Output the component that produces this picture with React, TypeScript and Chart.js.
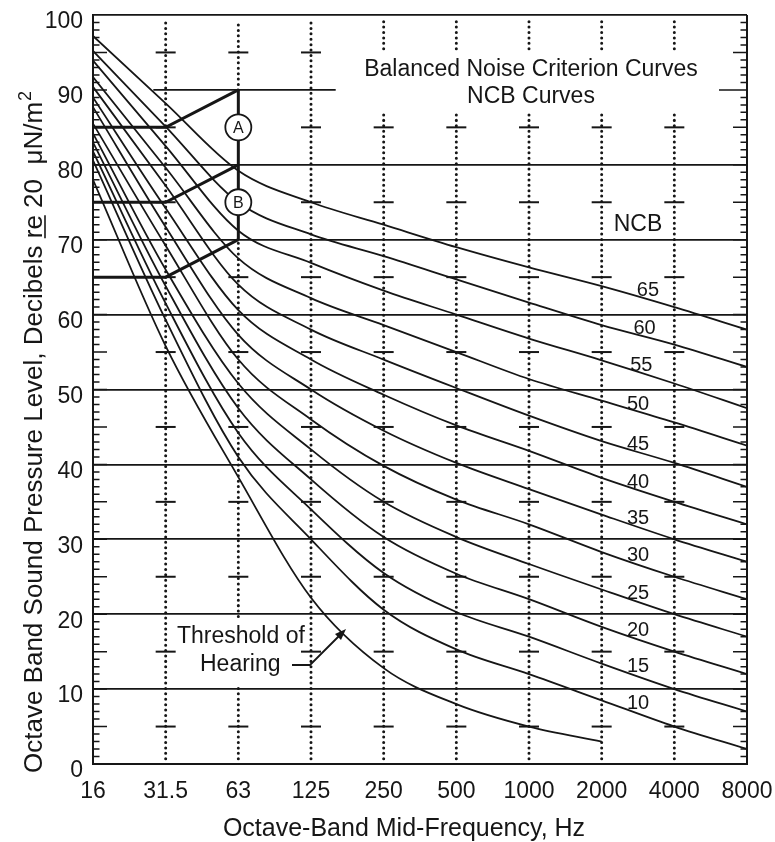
import React, { useEffect, useRef } from 'react';
import { Chart, registerables } from 'chart.js';

Chart.register(...registerables);

const FREQUENCIES = ['16', '31.5', '63', '125', '250', '500', '1000', '2000', '4000', '8000'];
const NCB_RATINGS = [65, 60, 55, 50, 45, 40, 35, 30, 25, 20, 15, 10];
const NCB_65 = [97.2, 88.2, 79.2, 75, 72, 69, 66.3, 63.8, 61, 58];
const NCB_60 = [95.2, 85.1, 75, 70.7, 67.8, 64.7, 61.6, 58.6, 56, 53];
const NCB_55 = [93.9, 82.5, 71.2, 66.9, 63.2, 60, 56.8, 53.9, 50.8, 47.5];
const NCB_50 = [91.7, 79.6, 67.5, 62.2, 58.6, 55, 51.4, 48.5, 45.6, 42.5];
const NCB_45 = [90.4, 77.2, 64, 58, 54, 50.2, 46.5, 43.1, 40.2, 37];
const NCB_40 = [89, 74.2, 60.6, 54, 49.3, 45.2, 41.8, 38.2, 35, 32];
const NCB_35 = [87.7, 71.7, 57.3, 50, 44.5, 40.2, 36.7, 33.3, 30, 27];
const NCB_30 = [85.5, 69.2, 54, 46, 39.8, 35.3, 32, 28.3, 25, 22];
const NCB_25 = [84.2, 66, 50.8, 42, 35, 30.3, 26.7, 23.3, 20, 17];
const NCB_20 = [83, 63.8, 47.5, 38, 30.3, 25.4, 22, 18.3, 15, 12];
const NCB_15 = [81.8, 61.5, 44.2, 34, 25.5, 20.3, 17, 13.4, 10, 7];
const NCB_10 = [80.6, 59.3, 41, 30, 20.6, 15.3, 12, 8.5, 5, 2];
const THRESHOLD = [78, 55.8, 38.3, 22.2, 12.8, 8, 5, 3];
const NCB_CURVES = [NCB_65, NCB_60, NCB_55, NCB_50, NCB_45, NCB_40, NCB_35, NCB_30, NCB_25, NCB_20, NCB_15, NCB_10];

// heavy limit lines at 16, 31.5 and 63 Hz
const LIMIT_UPPER = [85, 85, 90];
const LIMIT_MIDDLE = [75, 75, 80];
const LIMIT_LOWER = [65, 65, 70];
const LIMIT_SPAN_63 = [90, 70];
const REGION_LABELS = ['A', 'B'];
const REGION_LEVELS = [85, 75];
const Y_TICKS = [0, 10, 20, 30, 40, 50, 60, 70, 80, 90, 100];

const INK = '#161616';
const FONT = "'Liberation Sans', Arial, Helvetica, sans-serif";

const toPoints = (arr: number[], start = 0) => arr.map((v, i) => ({ x: i + start, y: v }));

const decor = {
  id: 'decor',
  beforeDatasetsDraw(chart: any) {
    const { ctx, chartArea: a, scales } = chart;
    const x = scales.x;
    const y = scales.y;
    ctx.save();
    ctx.strokeStyle = INK;
    ctx.lineCap = 'butt';
    ctx.lineWidth = 2;
    ctx.beginPath();
    ctx.moveTo(x.getPixelForValue(9), a.top);
    ctx.lineTo(x.getPixelForValue(9), a.bottom);
    ctx.stroke();
    ctx.lineWidth = 1.8;
    ctx.beginPath();
    ctx.moveTo(x.getPixelForValue(0.83), y.getPixelForValue(90));
    ctx.lineTo(x.getPixelForValue(3.34), y.getPixelForValue(90));
    ctx.stroke();
    ctx.lineWidth = 1.5;
    for (let v = 1; v < 100; v++) {
      const py = y.getPixelForValue(v);
      const len = v % 5 === 0 ? 14 : 6.5;
      const rlen = v === 90 ? 28 : len;
      ctx.beginPath();
      ctx.moveTo(a.left, py);
      ctx.lineTo(a.left + len, py);
      ctx.moveTo(a.right - rlen, py);
      ctx.lineTo(a.right, py);
      ctx.stroke();
    }
    ctx.lineWidth = 3;
    ctx.lineCap = 'round';
    ctx.setLineDash([0.01, 5.4]);
    for (let i = 1; i <= 8; i++) {
      let segs: number[][] = [[0.7, 99.3]];
      if (i === 2) segs = [[0.7, 10.3], [19.7, 70], [90, 99.3]];
      if (i >= 4) segs = [[0.7, 87], [95.5, 99.3]];
      const px = x.getPixelForValue(i);
      for (const [s, e] of segs) {
        ctx.beginPath();
        ctx.moveTo(px, y.getPixelForValue(s));
        ctx.lineTo(px, y.getPixelForValue(e));
        ctx.stroke();
      }
    }
    ctx.setLineDash([]);
    ctx.lineCap = 'butt';
    ctx.lineWidth = 2;
    for (let i = 1; i <= 8; i++) {
      const px = x.getPixelForValue(i);
      for (let v = 5; v < 100; v += 10) {
        if (v === 95 && i >= 4) continue;
        if (i === 2 && v === 15) continue;
        const py = y.getPixelForValue(v);
        ctx.beginPath();
        ctx.moveTo(px - 10, py);
        ctx.lineTo(px + 10, py);
        ctx.stroke();
      }
    }
    ctx.restore();
  },
  afterDatasetsDraw(chart: any) {
    const { ctx, scales } = chart;
    const x = scales.x;
    const y = scales.y;
    ctx.save();
    ctx.fillStyle = INK;
    ctx.strokeStyle = INK;
    ctx.textBaseline = 'middle';
    ctx.textAlign = 'center';
    ctx.font = `23px ${FONT}`;
    ctx.fillText('Balanced Noise Criterion Curves', 531, 70);
    ctx.fillText('NCB Curves', 531, 97);
    ctx.fillText('NCB', 638, 225);
    ctx.font = `20px ${FONT}`;
    NCB_CURVES.forEach((c, k) => {
      const mid = (c[7] + c[8]) / 2;
      const dx = Math.max(0, 3 - k) * 3.3;
      const dy = -(6 + k * 0.35);
      ctx.fillText(String(NCB_RATINGS[k]), x.getPixelForValue(7.5) + dx, y.getPixelForValue(mid) + dy);
    });
    ctx.font = `23px ${FONT}`;
    ctx.textAlign = 'left';
    ctx.fillText('Threshold of', 177, 637);
    ctx.fillText('Hearing', 200, 665);
    ctx.lineWidth = 1.8;
    ctx.beginPath();
    ctx.moveTo(292, 665);
    ctx.lineTo(310, 665);
    ctx.lineTo(342, 633);
    ctx.stroke();
    ctx.beginPath();
    ctx.moveTo(346, 629);
    ctx.lineTo(335, 634);
    ctx.lineTo(341, 640);
    ctx.closePath();
    ctx.fill();
    ctx.textAlign = 'center';
    REGION_LABELS.forEach((lab, k) => {
      const cx = x.getPixelForValue(2);
      const cy = y.getPixelForValue(REGION_LEVELS[k]);
      ctx.beginPath();
      ctx.arc(cx, cy, 13, 0, Math.PI * 2);
      ctx.fillStyle = '#fff';
      ctx.fill();
      ctx.lineWidth = 1.8;
      ctx.stroke();
      ctx.fillStyle = INK;
      ctx.font = `16px ${FONT}`;
      ctx.fillText(lab, cx, cy + 1);
    });
    ctx.restore();
  },
  afterDraw(chart: any) {
    const { ctx } = chart;
    ctx.save();
    ctx.fillStyle = INK;
    ctx.strokeStyle = INK;
    ctx.font = `25px ${FONT}`;
    ctx.textAlign = 'center';
    ctx.textBaseline = 'alphabetic';
    ctx.fillText('Octave-Band Mid-Frequency, Hz', 404, 836);
    ctx.translate(42, 773);
    ctx.rotate(-Math.PI / 2);
    ctx.textAlign = 'left';
    ctx.font = `26px ${FONT}`;
    let px = 0;
    const part1 = 'Octave Band Sound Pressure Level, Decibels ';
    ctx.fillText(part1, px, 0);
    px += ctx.measureText(part1).width;
    const re = 're';
    ctx.fillText(re, px, 0);
    const rw = ctx.measureText(re).width;
    ctx.lineWidth = 1.6;
    ctx.beginPath();
    ctx.moveTo(px, 3);
    ctx.lineTo(px + rw, 3);
    ctx.stroke();
    px += rw;
    const part2 = ' 20  \u03bcN/m';
    ctx.fillText(part2, px, 0);
    px += ctx.measureText(part2).width;
    ctx.font = `18px ${FONT}`;
    ctx.fillText('2', px + 1, -11);
    ctx.restore();
  },
};

export default function App() {
  const ref = useRef<HTMLCanvasElement>(null);
  useEffect(() => {
    const canvas = ref.current;
    if (!canvas) return;
    const curveSets = NCB_CURVES.map((c, k) => ({
      label: `NCB-${NCB_RATINGS[k]}`,
      data: toPoints(c),
      borderColor: INK,
      borderWidth: 1.8,
      pointRadius: 0,
      fill: false,
      cubicInterpolationMode: 'monotone' as const,
    }));
    const heavy = (arr: number[], label: string) => ({
      label,
      data: toPoints(arr),
      borderColor: INK,
      borderWidth: 3,
      pointRadius: 0,
      fill: false,
      tension: 0,
    });
    const datasets: any[] = [
      ...curveSets,
      {
        label: 'Threshold of Hearing',
        data: toPoints(THRESHOLD),
        borderColor: INK,
        borderWidth: 1.8,
        pointRadius: 0,
        fill: false,
        cubicInterpolationMode: 'monotone',
      },
      heavy(LIMIT_UPPER, 'upper'),
      heavy(LIMIT_MIDDLE, 'middle'),
      heavy(LIMIT_LOWER, 'lower'),
      {
        label: 'span63',
        data: LIMIT_SPAN_63.map((v) => ({ x: 2, y: v })),
        borderColor: INK,
        borderWidth: 3,
        pointRadius: 0,
        fill: false,
      },
    ];
    const chart = new Chart(canvas, {
      type: 'line',
      data: { datasets },
      options: {
        animation: false,
        responsive: false,
        events: [],
        layout: { padding: { top: 15, right: 28, left: 0, bottom: 0 } },
        plugins: { legend: { display: false }, tooltip: { enabled: false }, title: { display: false } },
        scales: {
          x: {
            type: 'linear',
            min: 0,
            max: 9,
            afterFit: (s: any) => {
              s.height = 78;
              s.paddingLeft = 0;
              s.paddingRight = 0;
            },
            ticks: {
              stepSize: 1,
              autoSkip: false,
              maxRotation: 0,
              padding: 14,
              color: INK,
              font: { family: FONT, size: 23 },
              callback: (v: any) => FREQUENCIES[Number(v)] ?? '',
            },
            grid: { display: false, drawTicks: false },
            border: { display: true, color: INK, width: 2 },
          },
          y: {
            min: 0,
            max: 100,
            afterFit: (s: any) => {
              s.width = 93;
              s.paddingTop = 0;
              s.paddingBottom = 0;
            },
            afterBuildTicks: (s: any) => {
              s.ticks = Y_TICKS.map((v) => ({ value: v }));
            },
            ticks: {
              padding: 10,
              labelOffset: 7,
              color: INK,
              font: { family: FONT, size: 23 },
            },
            grid: {
              drawTicks: false,
              lineWidth: 1.8,
              color: (c: any) => (c.tick && c.tick.value === 90 ? 'rgba(0,0,0,0)' : INK),
            },
            border: { display: true, color: INK, width: 2 },
          },
        },
      },
      plugins: [decor],
    });
    return () => chart.destroy();
  }, []);
  return (
    <div style={{ position: 'absolute', left: 0, top: 0, width: 775, height: 842, background: '#fff' }}>
      <canvas ref={ref} width={775} height={842} style={{ display: 'block' }} />
    </div>
  );
}
